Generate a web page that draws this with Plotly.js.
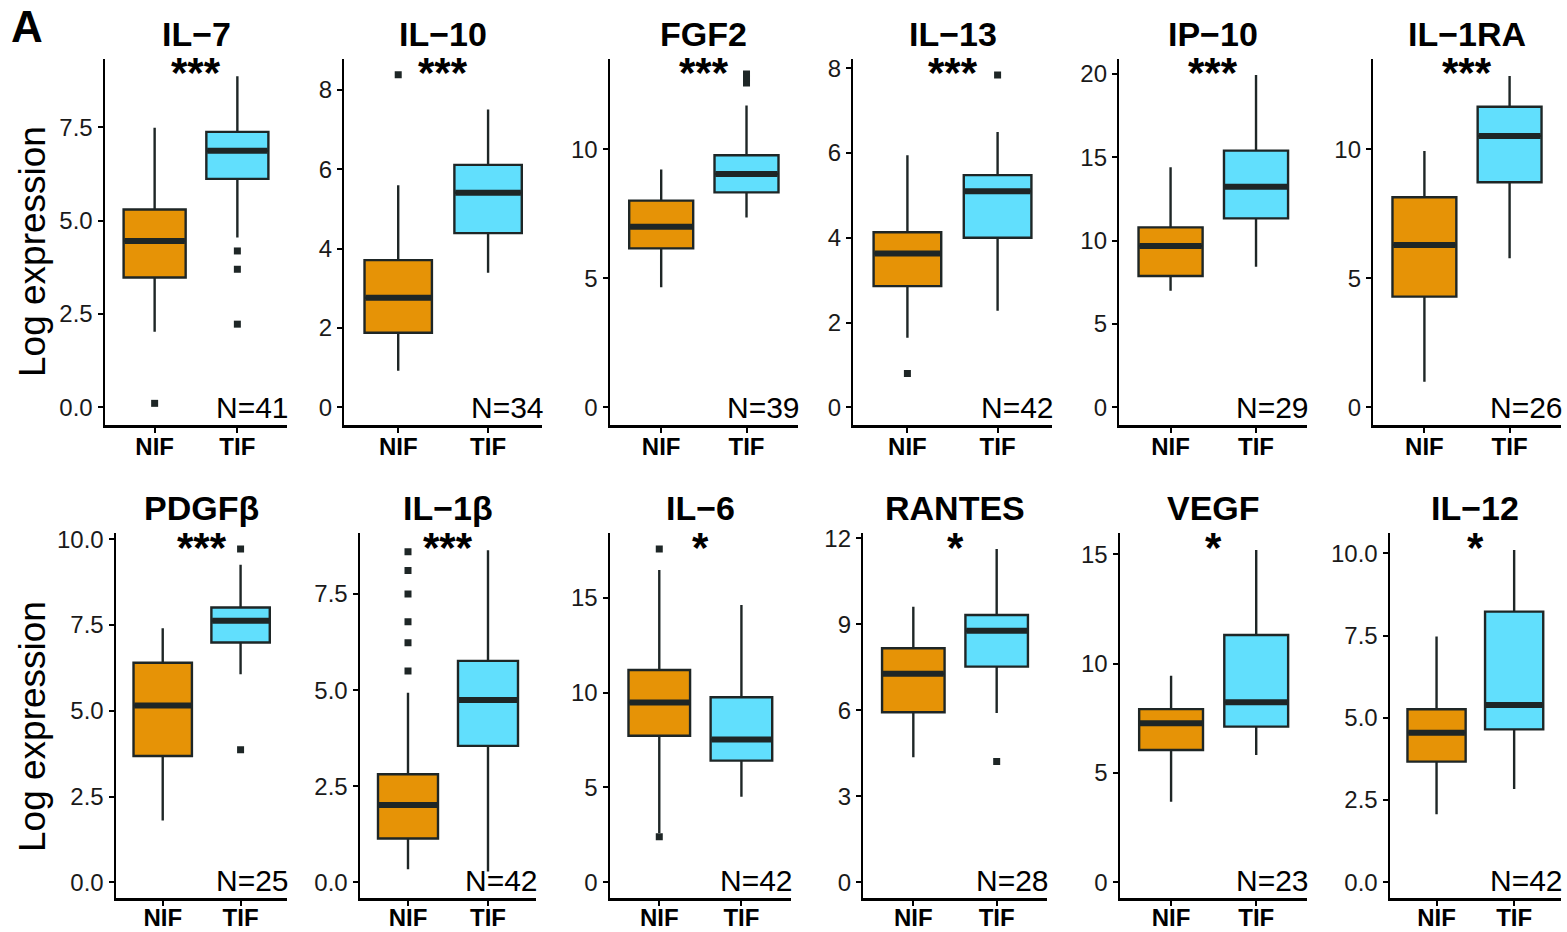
<!DOCTYPE html>
<html>
<head>
<meta charset="utf-8">
<script src="https://cdn.plot.ly/plotly-3.0.1.min.js"></script>
<style>html,body{margin:0;padding:0;background:#fff;}#chart{width:1567px;height:932px;}</style>
</head>
<body>
<div id="chart"></div>
<script>
// ---------- data ----------
const markers = ['IL−7', 'IL−10', 'FGF2', 'IL−13', 'IP−10', 'IL−1RA', 'PDGFβ', 'IL−1β', 'IL−6', 'RANTES', 'VEGF', 'IL−12'];
const significance = ['***', '***', '***', '***', '***', '***', '***', '***', '*', '*', '*', '*'];
const sampleN = [41, 34, 39, 42, 29, 26, 25, 42, 42, 28, 23, 42];
const groups = ['NIF', 'TIF'];

const nifLower  = [2.03, 0.92, 4.65, 1.64, 7.00, 0.99, 1.80, 0.34, 2.60, 4.36, 3.69, 2.07];
const nifQ1     = [3.48, 1.88, 6.16, 2.86, 7.88, 4.29, 3.68, 1.14, 7.72, 5.93, 6.05, 3.67];
const nifMedian = [4.46, 2.76, 7.00, 3.63, 9.68, 6.29, 5.15, 2.01, 9.48, 7.27, 7.27, 4.55];
const nifQ3     = [5.30, 3.71, 8.01, 4.13, 10.80, 8.14, 6.40, 2.81, 11.19, 8.16, 7.92, 5.26];
const nifUpper  = [7.49, 5.60, 9.22, 5.95, 14.40, 9.93, 7.40, 4.93, 16.45, 9.61, 9.45, 7.47];
const nifOutliers = [[0.11], [8.38], [], [0.80], [], [], [], [8.60, 8.11, 7.50, 6.78, 6.23, 5.50], [17.56, 2.40], [], [], []];

const tifLower  = [4.55, 3.39, 7.36, 2.28, 8.44, 5.78, 6.06, 0.28, 4.51, 5.90, 5.82, 2.84];
const tifQ1     = [6.12, 4.39, 8.33, 4.00, 11.34, 8.72, 6.99, 3.55, 6.41, 7.52, 7.12, 4.65];
const tifMedian = [6.87, 5.41, 9.04, 5.10, 13.24, 10.52, 7.62, 4.74, 7.53, 8.77, 8.23, 5.39];
const tifQ3     = [7.38, 6.11, 9.77, 5.48, 15.40, 11.65, 8.01, 5.76, 9.75, 9.32, 11.31, 8.23];
const tifUpper  = [8.87, 7.51, 11.70, 6.50, 19.94, 12.84, 9.25, 8.64, 14.61, 11.62, 15.20, 10.10];
const tifOutliers = [[4.19, 3.70, 2.23], [], [12.57, 12.75, 12.92], [7.84], [], [], [9.71, 3.86], [], [], [4.21], [], []];

// ---------- layout geometry (pixels) ----------
const W = 1567, H = 932;
const fx = p => p / W;
const fy = p => 1 - p / H;
const colPx = [[105, 287], [344.3, 542], [610, 797.7], [853.3, 1051.7], [1119.3, 1307.3], [1373.3, 1560.7],
               [116, 287.3], [360, 536], [610, 790.7], [863.3, 1046.7], [1120, 1307.3], [1390, 1560.7]];
const rowPx = [[59, 425], [533.3, 898.3]];
const yRanges = [[-0.47, 9.33], [-0.446, 8.78], [-0.686, 13.5], [-0.418, 8.22], [-1.06, 20.9], [-0.686, 13.5],
                 [-0.466, 10.17], [-0.416, 9.08], [-0.843, 18.39], [-0.558, 12.17], [-0.73, 15.96], [-0.486, 10.61]];
const yDticks = [2.5, 2, 5, 2, 5, 5, 2.5, 2.5, 5, 3, 5, 2.5];

const FONT = 'Liberation Sans, Arial, sans-serif';
const DARK = '#1e2626';
const fills = ['#e69306', '#61dffd'];
const BOXW = 0.75;

const traces = [];
const layout = {
  width: W, height: H,
  margin: {l: 0, r: 0, t: 0, b: 0},
  paper_bgcolor: '#fff', plot_bgcolor: 'rgba(0,0,0,0)',
  showlegend: false,
  boxmode: 'overlay',
  font: {family: FONT, color: '#000'},
  annotations: [],
  hovermode: false
};

const stats = [
  {lo: nifLower, q1: nifQ1, med: nifMedian, q3: nifQ3, hi: nifUpper, out: nifOutliers},
  {lo: tifLower, q1: tifQ1, med: tifMedian, q3: tifQ3, hi: tifUpper, out: tifOutliers}
];

markers.forEach((name, i) => {
  const s = i === 0 ? '' : String(i + 1);
  const xa = 'x' + s, ya = 'y' + s;
  const row = i < 6 ? 0 : 1;
  const cp = colPx[i], rp = rowPx[row];

  layout['xaxis' + s] = {
    domain: [fx(cp[0]), fx(cp[1])], anchor: ya,
    range: [-0.6, 1.6], tickmode: 'array', tickvals: [0, 1], ticktext: groups,
    showline: true, linecolor: '#000', linewidth: 2.5,
    ticks: 'outside', ticklen: 5, tickwidth: 2, tickcolor: '#000',
    ticklabelstandoff: row === 0 ? -6 : -9,
    tickfont: {family: FONT, size: 24, color: '#000', weight: 'bold'},
    showgrid: false, zeroline: false, fixedrange: true
  };
  layout['yaxis' + s] = {
    domain: [fy(rp[1]), fy(rp[0])], anchor: xa,
    range: yRanges[i], tick0: 0, dtick: yDticks[i],
    tickformat: yDticks[i] === 2.5 ? '.1f' : '',
    showline: true, linecolor: '#000', linewidth: 2.5,
    ticks: 'outside', ticklen: 5, tickwidth: 2, tickcolor: '#000',
    tickfont: {family: FONT, size: 24, color: '#1a1a1a'},
    showgrid: false, zeroline: false, fixedrange: true
  };

  stats.forEach((st, g) => {
    traces.push({
      type: 'box', orientation: 'v', xaxis: xa, yaxis: ya,
      x: [g], q1: [st.q1[i]], median: [st.med[i]], q3: [st.q3[i]],
      lowerfence: [st.lo[i]], upperfence: [st.hi[i]],
      width: BOXW, whiskerwidth: 0, boxpoints: false,
      fillcolor: fills[g], line: {color: DARK, width: 2.4},
      hoverinfo: 'skip'
    });
    traces.push({
      type: 'scatter', mode: 'lines', xaxis: xa, yaxis: ya,
      x: [g - BOXW / 2 + 0.01, g + BOXW / 2 - 0.01], y: [st.med[i], st.med[i]],
      line: {color: DARK, width: 6}, hoverinfo: 'skip'
    });
    if (st.out[i].length) {
      traces.push({
        type: 'scatter', mode: 'markers', xaxis: xa, yaxis: ya,
        x: st.out[i].map(() => g), y: st.out[i],
        marker: {symbol: 'square', size: 7, color: DARK}, hoverinfo: 'skip'
      });
    }
  });

  // panel title
  layout.annotations.push({
    xref: xa + ' domain', x: 0.5, yref: 'paper', y: fy(rp[0] - 25),
    xanchor: 'center', yanchor: 'middle', showarrow: false,
    text: name, font: {family: FONT, size: 34, color: '#000', weight: 'bold'}
  });
  // significance stars
  layout.annotations.push({
    xref: xa + ' domain', x: 0.5, yref: 'paper', y: fy(rp[0] + 14),
    xanchor: 'center', yanchor: 'middle', showarrow: false,
    text: significance[i], font: {family: FONT, size: 42, color: '#000', weight: 'bold'}
  });
  // N label
  layout.annotations.push({
    xref: xa + ' domain', x: 1, yref: ya + ' domain', y: 0,
    xanchor: 'right', yanchor: 'bottom', showarrow: false, borderpad: 0, xshift: 3,
    text: 'N=' + sampleN[i], font: {family: FONT, size: 30, color: '#000'}
  });
});

// y axis titles
[252, 727].forEach(py => {
  layout.annotations.push({
    xref: 'paper', yref: 'paper', x: fx(32), y: fy(py),
    xanchor: 'center', yanchor: 'middle', textangle: -90, showarrow: false,
    text: 'Log expression', font: {family: FONT, size: 37, color: '#000'}
  });
});
// panel letter
layout.annotations.push({
  xref: 'paper', yref: 'paper', x: fx(27), y: fy(26),
  xanchor: 'center', yanchor: 'middle', showarrow: false,
  text: 'A', font: {family: FONT, size: 44, color: '#000', weight: 'bold'}
});

Plotly.newPlot('chart', traces, layout, {staticPlot: true, displayModeBar: false});
</script>
</body>
</html>
